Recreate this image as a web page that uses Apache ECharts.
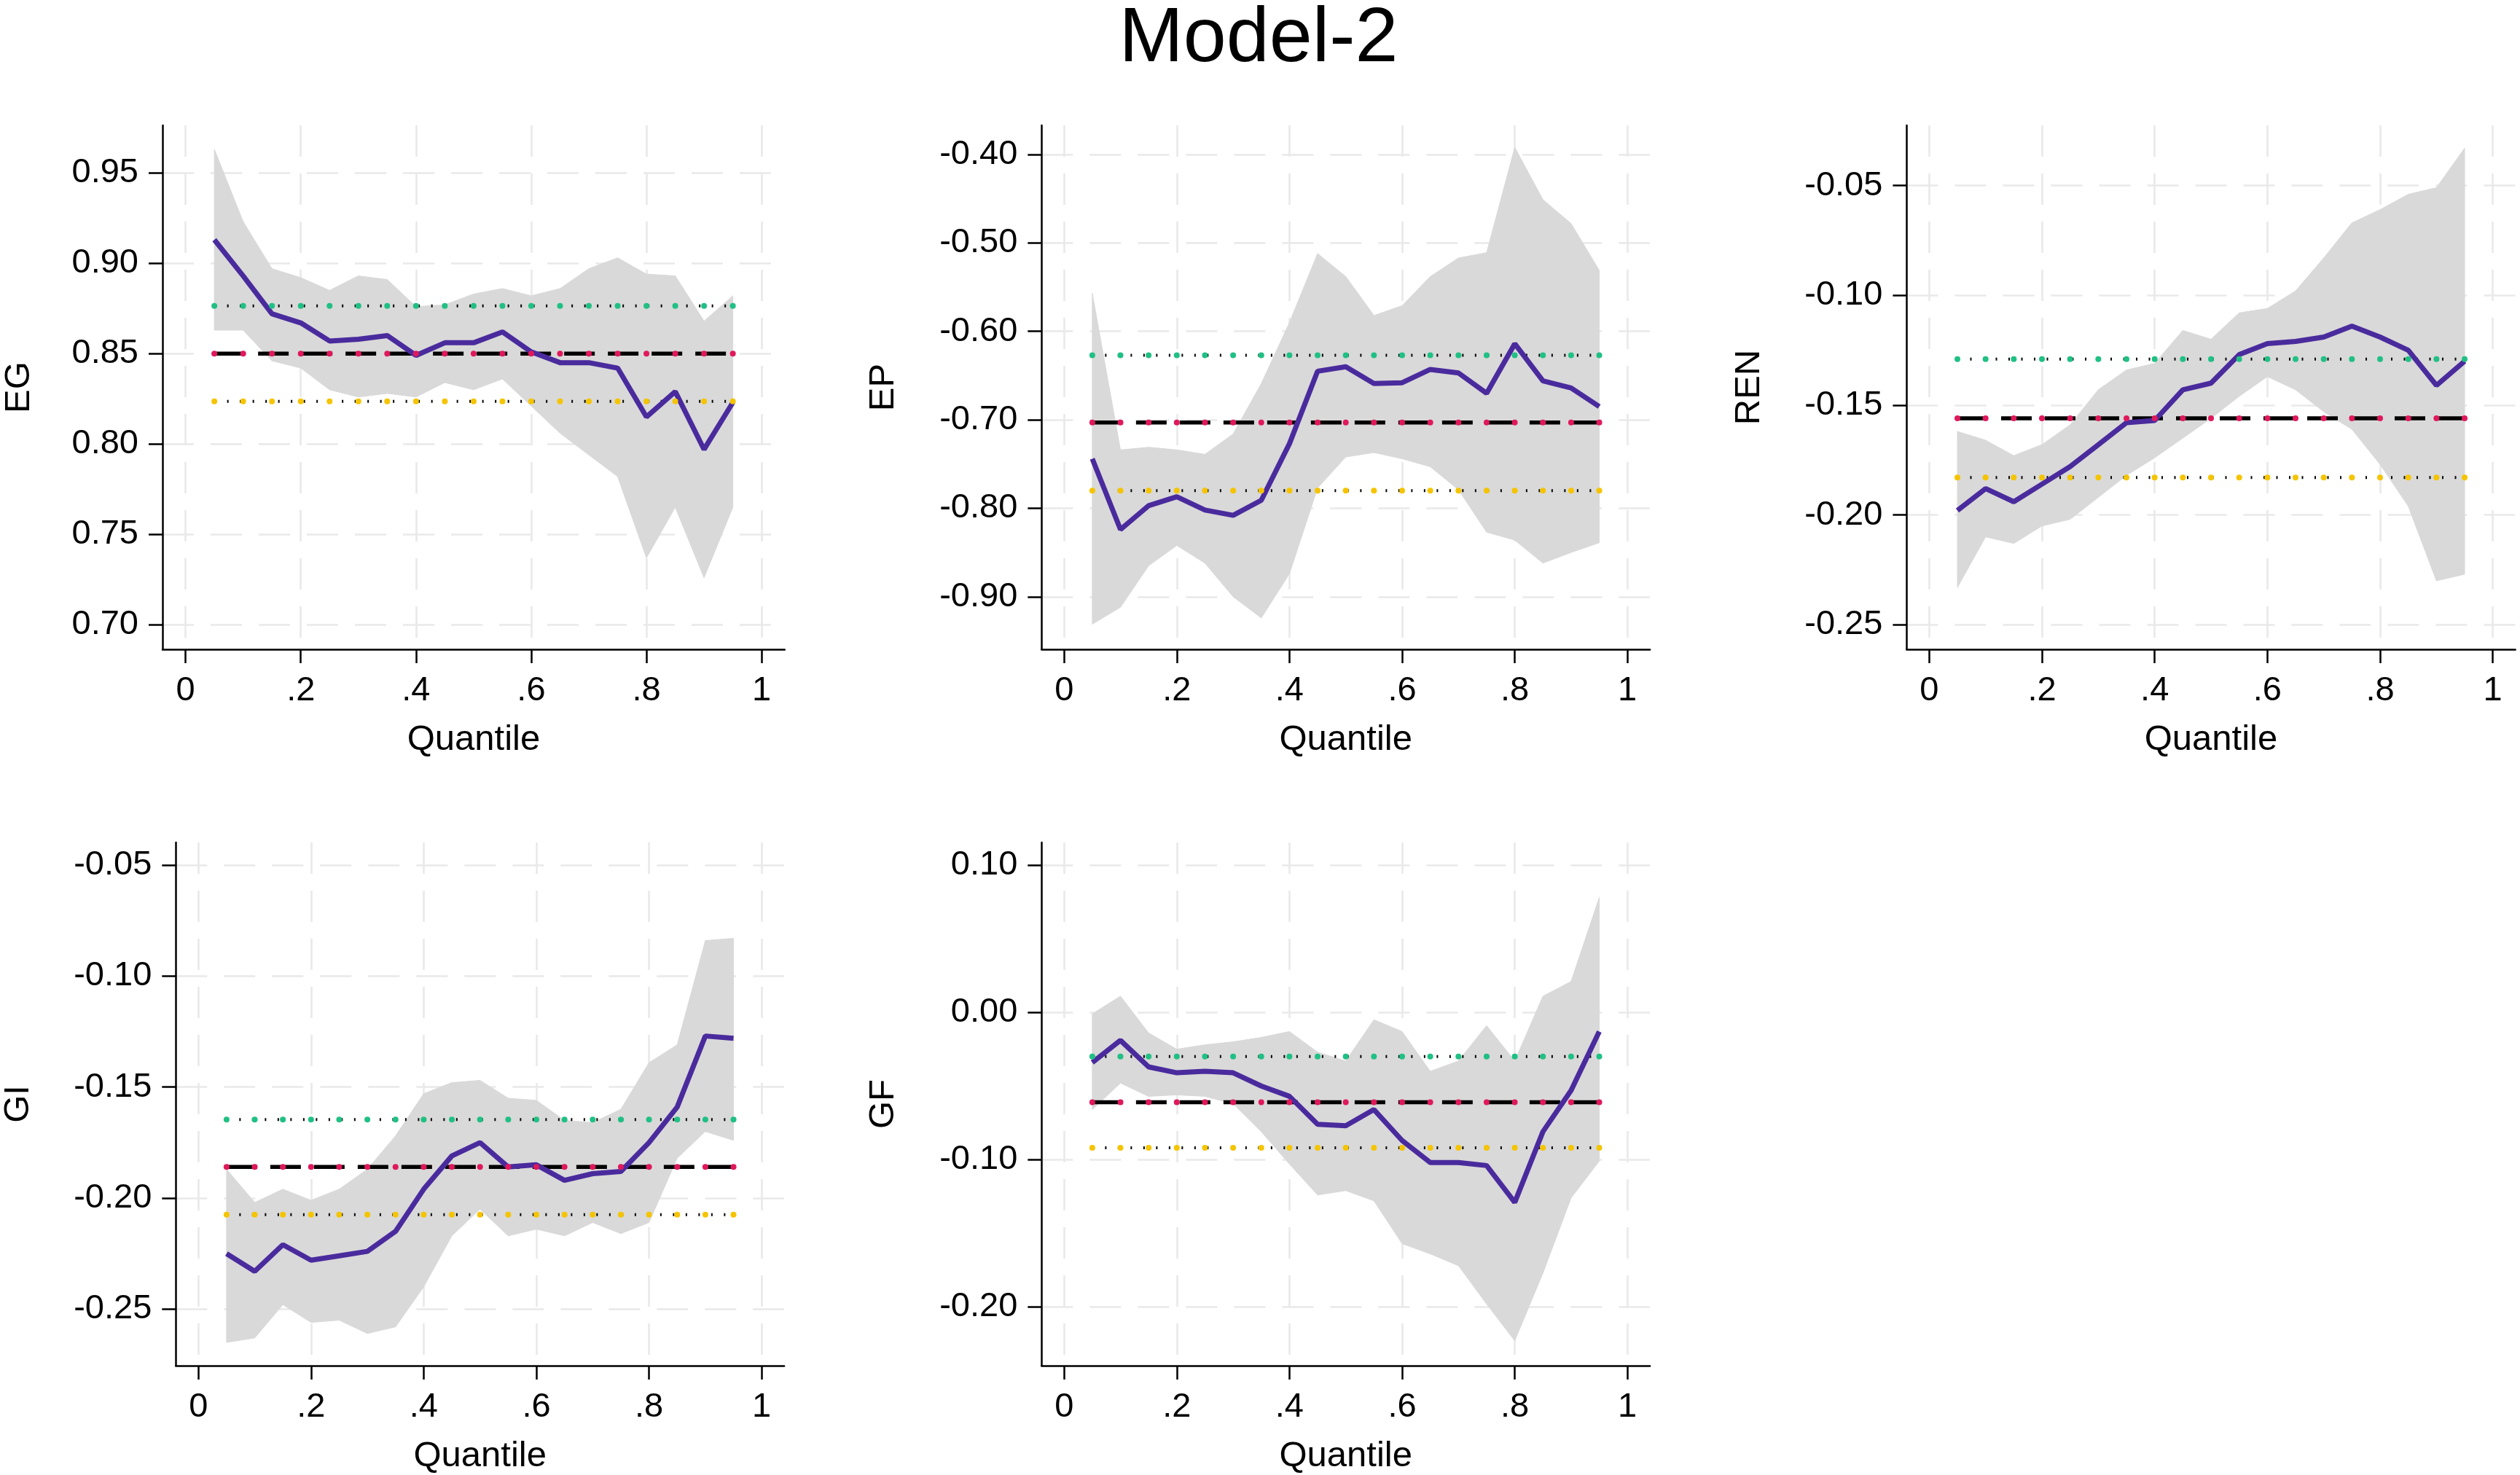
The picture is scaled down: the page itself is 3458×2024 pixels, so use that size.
<!DOCTYPE html>
<html><head><meta charset="utf-8">
<script src="https://cdn.jsdelivr.net/npm/echarts@6/dist/echarts.min.js"></script>
<style>html,body{margin:0;padding:0;background:#fff}#c{width:3458px;height:2024px}</style>
</head><body><div id="c"></div>
<script>
// ---------- DATA ----------
const quantiles = [0.05,0.10,0.15,0.20,0.25,0.30,0.35,0.40,0.45,0.50,0.55,0.60,0.65,0.70,0.75,0.80,0.85,0.90,0.95];
const xTicks = [0, 0.2, 0.4, 0.6, 0.8, 1];
const xTickLabels = ['0', '.2', '.4', '.6', '.8', '1'];

const egCoef  = [0.913,0.893,0.872,0.867,0.857,0.858,0.860,0.849,0.856,0.856,0.862,0.851,0.845,0.845,0.842,0.815,0.829,0.797,0.823];
const egUpper = [0.963,0.923,0.897,0.892,0.885,0.893,0.891,0.876,0.877,0.883,0.886,0.882,0.886,0.897,0.903,0.894,0.893,0.868,0.882];
const egLower = [0.863,0.863,0.846,0.842,0.830,0.826,0.828,0.826,0.834,0.830,0.836,0.821,0.806,0.794,0.782,0.737,0.765,0.726,0.765];
const egOls = [0.8236, 0.850, 0.8764];          // lower CI, coefficient, upper CI
const egYTicks = [0.70, 0.75, 0.80, 0.85, 0.90, 0.95];

const epCoef  = [-0.744,-0.824,-0.797,-0.787,-0.802,-0.808,-0.791,-0.727,-0.645,-0.640,-0.659,-0.658,-0.643,-0.647,-0.670,-0.614,-0.656,-0.664,-0.685];
const epUpper = [-0.557,-0.734,-0.731,-0.734,-0.739,-0.716,-0.659,-0.590,-0.512,-0.538,-0.582,-0.571,-0.538,-0.517,-0.511,-0.392,-0.451,-0.478,-0.531];
const epLower = [-0.931,-0.912,-0.865,-0.842,-0.862,-0.900,-0.924,-0.874,-0.777,-0.742,-0.737,-0.744,-0.753,-0.779,-0.827,-0.836,-0.862,-0.850,-0.839];
const epOls = [-0.780, -0.703, -0.627];
const epYTicks = [-0.90, -0.80, -0.70, -0.60, -0.50, -0.40];

const renCoef  = [-0.198,-0.188,-0.194,-0.186,-0.178,-0.168,-0.158,-0.157,-0.143,-0.140,-0.127,-0.122,-0.121,-0.119,-0.114,-0.119,-0.125,-0.141,-0.130];
const renUpper = [-0.162,-0.166,-0.173,-0.168,-0.159,-0.143,-0.134,-0.131,-0.116,-0.120,-0.108,-0.106,-0.098,-0.083,-0.067,-0.061,-0.054,-0.051,-0.033];
const renLower = [-0.233,-0.210,-0.213,-0.205,-0.202,-0.192,-0.182,-0.174,-0.165,-0.156,-0.146,-0.137,-0.143,-0.153,-0.161,-0.177,-0.196,-0.230,-0.227];
const renOls = [-0.183, -0.156, -0.129];
const renYTicks = [-0.25, -0.20, -0.15, -0.10, -0.05];

const giCoef  = [-0.225,-0.233,-0.221,-0.228,-0.226,-0.224,-0.215,-0.196,-0.181,-0.175,-0.186,-0.185,-0.192,-0.189,-0.188,-0.175,-0.159,-0.127,-0.128];
const giUpper = [-0.187,-0.202,-0.196,-0.201,-0.196,-0.187,-0.172,-0.153,-0.148,-0.147,-0.155,-0.156,-0.165,-0.166,-0.160,-0.139,-0.131,-0.084,-0.083];
const giLower = [-0.265,-0.263,-0.248,-0.256,-0.255,-0.261,-0.258,-0.240,-0.217,-0.205,-0.217,-0.214,-0.217,-0.211,-0.216,-0.211,-0.182,-0.170,-0.174];
const giOls = [-0.2075, -0.186, -0.1646];
const giYTicks = [-0.25, -0.20, -0.15, -0.10, -0.05];

const gfCoef  = [-0.034,-0.019,-0.037,-0.041,-0.040,-0.041,-0.050,-0.057,-0.076,-0.077,-0.066,-0.087,-0.102,-0.102,-0.104,-0.129,-0.081,-0.053,-0.013];
const gfUpper = [-0.001,0.011,-0.014,-0.025,-0.022,-0.020,-0.017,-0.013,-0.027,-0.033,-0.005,-0.013,-0.040,-0.033,-0.009,-0.033,0.011,0.021,0.078];
const gfLower = [-0.066,-0.048,-0.057,-0.056,-0.057,-0.062,-0.081,-0.103,-0.124,-0.121,-0.128,-0.157,-0.164,-0.172,-0.198,-0.223,-0.177,-0.126,-0.101];
const gfOls = [-0.092, -0.061, -0.030];
const gfYTicks = [-0.20, -0.10, 0.00, 0.10];

const panelNames = ['EG', 'EP', 'REN', 'GI', 'GF'];

// ---------- LAYOUT / STYLE ----------
const FONT = 'Liberation Sans, Arial, Helvetica, sans-serif';
const layout = [
  {left: 223,    width: 853.8, top: 172,  height: 719, yMin: 0.6864,  yMax: 0.9763,  nameGap: 172},
  {left: 1429.3, width: 834.8, top: 172,  height: 719, yMin: -0.9595, yMax: -0.367,  nameGap: 192},
  {left: 2616.4, width: 835.2, top: 172,  height: 719, yMin: -0.2612, yMax: -0.0226, nameGap: 191},
  {left: 241.3,  width: 834.8, top: 1156, height: 719, yMin: -0.2755, yMax: -0.0398, nameGap: 191},
  {left: 1429.3, width: 834.8, top: 1156, height: 719, yMin: -0.2399, yMax: 0.1154,  nameGap: 192}
];
const panels = [
  {coef: egCoef,  up: egUpper,  lo: egLower,  ols: egOls,  yTicks: egYTicks},
  {coef: epCoef,  up: epUpper,  lo: epLower,  ols: epOls,  yTicks: epYTicks},
  {coef: renCoef, up: renUpper, lo: renLower, ols: renOls, yTicks: renYTicks},
  {coef: giCoef,  up: giUpper,  lo: giLower,  ols: giOls,  yTicks: giYTicks},
  {coef: gfCoef,  up: gfUpper,  lo: gfLower,  ols: gfOls,  yTicks: gfYTicks}
];

const COL = {purple: '#4a2b9d', band: '#d9d9d9', green: '#20c084', red: '#e0185c', yellow: '#f5c400', grid: '#e9e9e9'};

const grids = [], xAxes = [], yAxes = [], series = [];
panels.forEach((p, i) => {
  const L = layout[i];
  grids.push({left: L.left, top: L.top, width: L.width, height: L.height, containLabel: false});
  const axisCommon = {
    axisLine: {show: true, onZero: false, lineStyle: {color: '#000', width: 2.5}},
    axisTick: {show: true, length: 19, lineStyle: {color: '#000', width: 2.5}},
    splitLine: {show: true, lineStyle: {color: COL.grid, width: 2.6, type: [43, 23]}},
    nameTextStyle: {fontFamily: FONT, fontSize: 49, color: '#000'}
  };
  xAxes.push(Object.assign({}, axisCommon, {
    gridIndex: i, type: 'value', min: -0.04, max: 1.04,
    name: 'Quantile', nameLocation: 'middle', nameGap: 100,
    axisTick: Object.assign({}, axisCommon.axisTick, {customValues: xTicks}),
    axisLabel: {customValues: xTicks, margin: 34, fontFamily: FONT, fontSize: 47, color: '#000',
      formatter: v => { const k = xTicks.findIndex(t => Math.abs(t - v) < 1e-9); return k >= 0 ? xTickLabels[k] : ''; }}
  }));
  yAxes.push(Object.assign({}, axisCommon, {
    gridIndex: i, type: 'value', min: L.yMin, max: L.yMax,
    name: panelNames[i], nameLocation: 'middle', nameGap: L.nameGap,
    axisTick: Object.assign({}, axisCommon.axisTick, {customValues: p.yTicks}),
    axisLabel: {customValues: p.yTicks, margin: 33, fontFamily: FONT, fontSize: 47, color: '#000',
      formatter: v => v.toFixed(2)}
  }));
  const base = {xAxisIndex: i, yAxisIndex: i, silent: true, animation: false};
  // CI band as one polygon (upper edge forward, lower edge backward) through the axes
  series.push(Object.assign({}, base, {
    type: 'custom',
    data: quantiles.map((q, k) => [q, p.lo[k], p.up[k]]),
    encode: {x: 0, y: [1, 2]},
    renderItem: (params, api) => {
      if (params.dataIndex !== 0) return null;
      const pts = [];
      quantiles.forEach((q, k) => pts.push(api.coord([q, p.up[k]])));
      for (let k = quantiles.length - 1; k >= 0; k--) pts.push(api.coord([quantiles[k], p.lo[k]]));
      return {type: 'polygon', shape: {points: pts}, style: {fill: COL.band, stroke: COL.band, lineWidth: 1}};
    }
  }));
  // OLS CI lines (dotted) with markers
  [[p.ols[2], COL.green], [p.ols[0], COL.yellow]].forEach(([v, c]) => {
    series.push(Object.assign({}, base, {
      type: 'line', symbol: 'circle', symbolSize: 8, showSymbol: true,
      itemStyle: {color: c, borderWidth: 0},
      lineStyle: {color: '#000', width: 4, type: [2, 15.5], cap: 'butt'},
      data: quantiles.map(q => [q, v])
    }));
  });
  // OLS coefficient (dashed) with markers
  series.push(Object.assign({}, base, {
    type: 'line', symbol: 'circle', symbolSize: 8, showSymbol: true,
    itemStyle: {color: COL.red, borderWidth: 0},
    lineStyle: {color: '#000', width: 5.5, type: [42, 18], cap: 'butt'},
    data: quantiles.map(q => [q, p.ols[1]])
  }));
  // Quantile regression coefficient
  series.push(Object.assign({}, base, {
    type: 'line', symbol: 'none', lineStyle: {color: COL.purple, width: 7},
    data: quantiles.map((q, k) => [q, p.coef[k]])
  }));
});

const chart = echarts.init(document.getElementById('c'), null, {renderer: 'canvas'});
chart.setOption({
  backgroundColor: '#fff',
  animation: false,
  title: {text: 'Model-2', left: 1722, textAlign: 'center', top: -3,
    textStyle: {fontFamily: FONT, fontSize: 106, fontWeight: 'normal', color: '#000'}},
  grid: grids, xAxis: xAxes, yAxis: yAxes, series: series
});
</script></body></html>
